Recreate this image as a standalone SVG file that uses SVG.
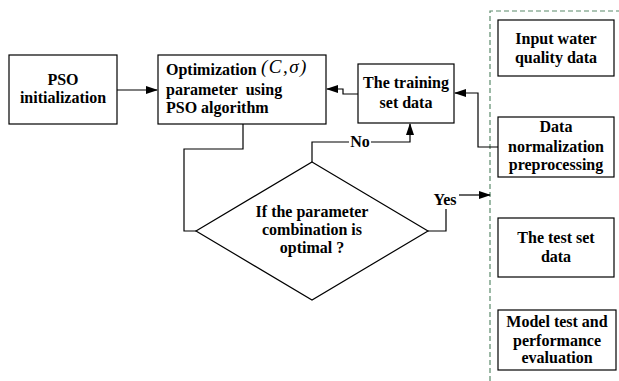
<svg xmlns="http://www.w3.org/2000/svg" width="619" height="381" viewBox="0 0 619 381">
<defs>
<style>
.box{fill:#fff;stroke:#000;stroke-width:1.2}
.ln{fill:none;stroke:#000;stroke-width:1.2}
.t{font-family:"Liberation Serif","Times New Roman",serif;font-weight:bold;font-size:16px;fill:#000}
.c{text-anchor:middle}
</style>
<marker id="ah" markerWidth="12" markerHeight="8" refX="11" refY="4" orient="auto" markerUnits="userSpaceOnUse">
<path d="M0,0 L12,4 L0,8 Z" fill="#000"/>
</marker>
</defs>
<rect width="619" height="381" fill="#fff"/>
<path d="M490,381 L490,11 L619,11" fill="none" stroke="#5b8a6b" stroke-width="1.2" stroke-dasharray="5,3"/>
<g id="pso-init">
<rect class="box" x="9" y="55" width="108" height="69"/>
<text class="t c" x="63" y="85">PSO</text>
<text class="t c" x="63" y="103">initialization</text>
</g>
<g id="optimization">
<rect class="box" x="158" y="55" width="168" height="69"/>
<text class="t" x="166" y="75">Optimization</text>
<text x="261" y="73" font-family="Liberation Serif,serif" font-size="19" font-style="italic" letter-spacing="1.5">(C,σ)</text>
<text class="t" x="166" y="95" word-spacing="4">parameter using</text>
<text class="t" x="166" y="113">PSO algorithm</text>
</g>
<g id="training">
<rect class="box" x="358" y="64" width="96" height="59"/>
<text class="t c" x="406" y="88">The training</text>
<text class="t c" x="406" y="108">set data</text>
</g>
<g id="decision">
<polygon class="box" points="312,162 428,231 312,300 196,231"/>
<text class="t c" x="312" y="217">If the parameter</text>
<text class="t c" x="312" y="235">combination is</text>
<text class="t c" x="312" y="253">optimal ?</text>
</g>
<g id="input">
<rect class="box" x="498" y="20" width="116" height="56"/>
<text class="t c" x="556" y="44">Input water</text>
<text class="t c" x="556" y="63">quality data</text>
</g>
<g id="normalization">
<rect class="box" x="498" y="117" width="116" height="60"/>
<text class="t c" x="556" y="132">Data</text>
<text class="t c" x="556" y="152">normalization</text>
<text class="t c" x="556" y="170">preprocessing</text>
</g>
<g id="testset">
<rect class="box" x="498" y="218" width="116" height="59"/>
<text class="t c" x="556" y="243">The test set</text>
<text class="t c" x="556" y="262">data</text>
</g>
<g id="model">
<rect class="box" x="498" y="310" width="118" height="60"/>
<text class="t c" x="557" y="327">Model test and</text>
<text class="t c" x="557" y="346">performance</text>
<text class="t c" x="557" y="363">evaluation</text>
</g>
<g id="connectors">
<path class="ln" d="M117,90 L157,90" marker-end="url(#ah)"/>
<path class="ln" d="M358,94 L343,94 L343,89 L327,89" marker-end="url(#ah)"/>
<path class="ln" d="M498,147 L478,147 L478,93 L455,93" marker-end="url(#ah)"/>
<path class="ln" d="M243,124 L243,149 L184,149 L184,231 L196,231"/>
<path class="ln" d="M312,162 L312,142 L349,142"/>
<path class="ln" d="M371,142 L410,142 L410,124" marker-end="url(#ah)"/>
<text class="t c" x="360" y="147">No</text>
<path class="ln" d="M428,231 L446,231 L446,209"/>
<text class="t c" x="445" y="205">Yes</text>
<path class="ln" d="M459,195 L490,195" marker-end="url(#ah)"/>
</g>
</svg>
